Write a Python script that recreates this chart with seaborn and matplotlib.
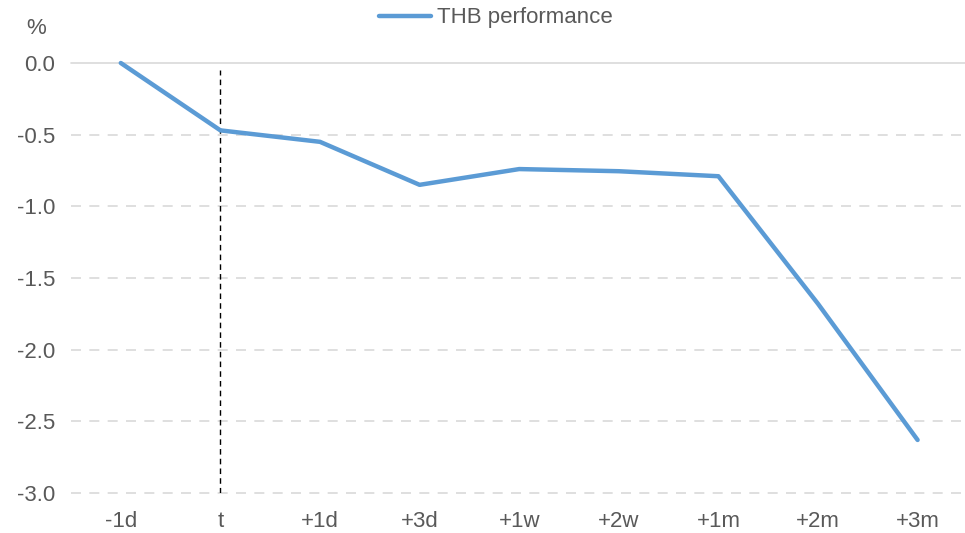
import matplotlib
matplotlib.use("Agg")
import matplotlib.pyplot as plt
import seaborn as sns
import pandas as pd

# data
horizons = ["-1d", "t", "+1d", "+3d", "+1w", "+2w", "+1m", "+2m", "+3m"]
thb_perf = [0.0, -0.47, -0.55, -0.85, -0.74, -0.755, -0.79, -1.68, -2.63]
yticks = [0.0, -0.5, -1.0, -1.5, -2.0, -2.5, -3.0]

df = pd.DataFrame({"horizon": horizons, "perf": thb_perf})
df["pos"] = range(len(horizons))

sns.set_style("white")
plt.rcParams["font.family"] = ["Liberation Sans", "DejaVu Sans"]
grey = "#595959"
fs = 16

fig = plt.figure(figsize=(9.65, 5.33), dpi=100)
ax = fig.add_axes([71 / 965, 1 - 493 / 533, 1 - 71 / 965, (493 - 63) / 533])

# gridlines: solid at zero, dashed elsewhere
for y in yticks:
    ax.axhline(y, color="#d9d9d9", lw=1.2, ls="-" if y == 0 else (0, (6, 5)), zorder=0, clip_on=False)

ax.axvline(1, ymin=0, ymax=(493 - 70) / (493 - 63), color="black", lw=1, ls=(0, (4, 3)), zorder=1)

sns.lineplot(data=df, x="pos", y="perf", color="#5b9bd5", lw=3.2, ax=ax,
             label="THB performance", solid_capstyle="round", zorder=3, clip_on=False)

ax.set_xlim(-0.5, -0.5 + (965 - 71) / 99.6)
ax.set_ylim(-3.0, 0.0)
ax.set_xticks(df["pos"])
ax.set_xticklabels(horizons)
ax.set_yticks(yticks)
ax.set_yticklabels([f"{v:.1f}" for v in yticks])
ax.tick_params(axis="both", length=0, labelsize=fs, colors=grey)
ax.tick_params(axis="x", pad=13)
ax.tick_params(axis="y", pad=11.5)
ax.set_xlabel("")
ax.set_ylabel("")
for s in ax.spines.values():
    s.set_visible(False)

fig.text(36 / 965, 1 - 28 / 533, "%", fontsize=fs, color=grey, ha="center", va="center")

leg = ax.legend(loc="center", bbox_to_anchor=(496 / 965, 1 - 18 / 533), bbox_transform=fig.transFigure,
                frameon=False, fontsize=fs, handlelength=2.35, handletextpad=0.27)
for t in leg.get_texts():
    t.set_color(grey)

fig.savefig("out.png", dpi=100)
